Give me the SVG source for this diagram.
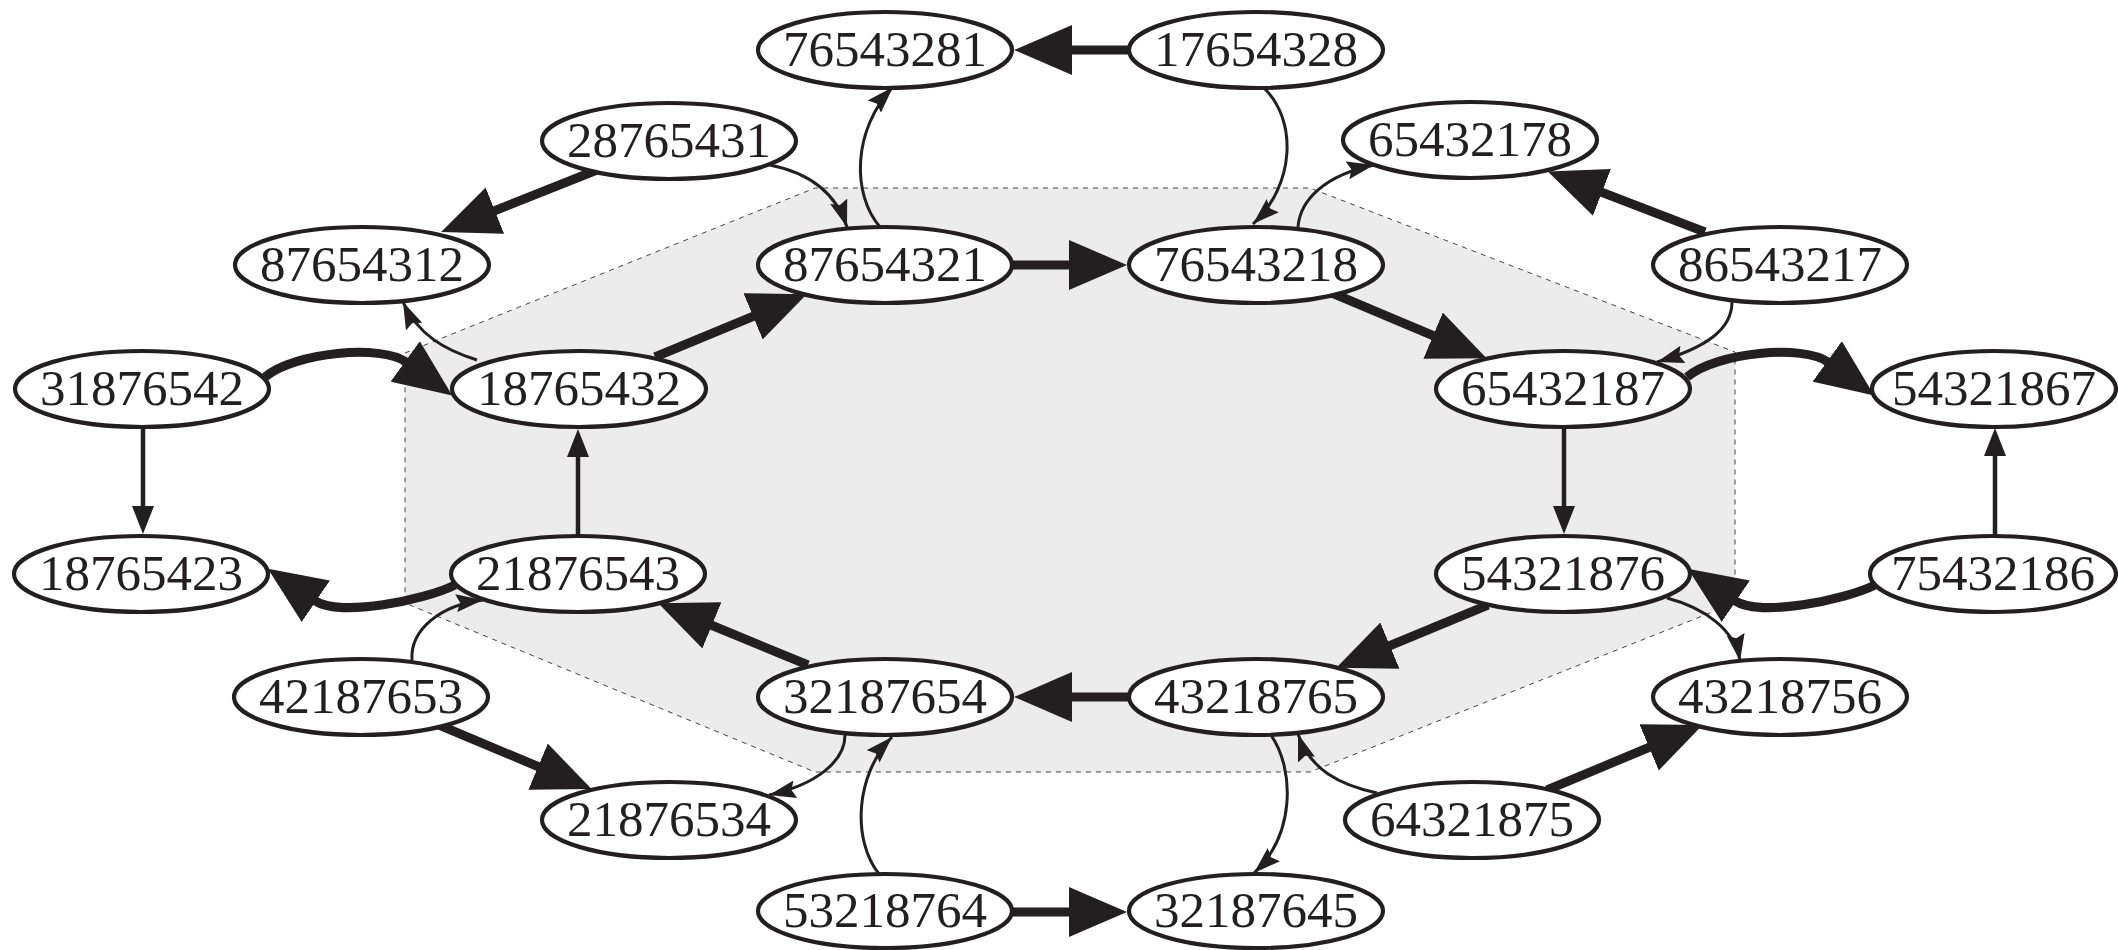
<svg xmlns="http://www.w3.org/2000/svg" width="2118" height="950" viewBox="0 0 2118 950">
<style>
.node ellipse{fill:#fff;stroke:#231f20;stroke-width:4.2}
.node text{font-family:"Liberation Serif","Times New Roman",serif;font-size:51px;fill:#231f20;text-anchor:middle}
#edges path{fill:none;stroke:#231f20}
#edges .thick{stroke-width:9;marker-end:url(#big)}
#edges .mid{stroke-width:4.5;marker-end:url(#med)}
#edges .thin{stroke-width:3;marker-end:url(#sm)}
</style>
<defs>
<marker id="big" markerUnits="userSpaceOnUse" viewBox="0 0 58 50" markerWidth="58" markerHeight="50" refX="1" refY="25" orient="auto"><path d="M0,0 L58,25 L0,50 Z" fill="#231f20"/></marker>
<marker id="med" markerUnits="userSpaceOnUse" viewBox="0 0 28 22" markerWidth="28" markerHeight="22" refX="1" refY="11" orient="auto"><path d="M0,0 L28,11 L0,22 Z" fill="#231f20"/></marker>
<marker id="sm" markerUnits="userSpaceOnUse" viewBox="0 0 27 18" markerWidth="27" markerHeight="18" refX="27" refY="9" orient="auto"><path d="M0,0 L27,9 L0,18 L4,9 Z" fill="#231f20"/></marker>
</defs>
<rect width="2118" height="950" fill="#fff"/>
<polygon id="region" points="405,353 815,188 1310,188 1735,352 1735,603 1310,772 815,772 405,603" fill="#ececec" stroke="#444" stroke-width="1" stroke-dasharray="5 5"/>
<g id="edges">
<path class="thick" d="M1129 50 L1071 50"/>
<path class="thick" d="M1129 697 L1071 697"/>
<path class="thick" d="M1012 265 L1070 265"/>
<path class="thick" d="M1012 912 L1070 912"/>
<path class="thick" d="M597 170 L494 211"/>
<path class="thick" d="M655 357 L754 316"/>
<path class="thick" d="M1332 293 L1434 336"/>
<path class="thick" d="M1705 232 L1601 192"/>
<path class="thick" d="M808 665 L711 625"/>
<path class="thick" d="M1488 605 L1389 646"/>
<path class="thick" d="M439 725 L539 767"/>
<path class="thick" d="M1547 790 L1650 747"/>
<path class="thick" d="M265 377 C295 352 381.5 344.3 406 362"/>
<path class="thick" d="M1687 377 C1717 352 1803.5 344.3 1828 362"/>
<path class="thick" d="M455 585 C425 600 339.7 617.5 315 600.7"/>
<path class="thick" d="M1875 585 C1845 600 1759.7 617.5 1735 600.7"/>
<path class="mid" d="M143 427 L143 507"/>
<path class="mid" d="M578 536 L578 456"/>
<path class="mid" d="M1564 427 L1564 507"/>
<path class="mid" d="M1995 536 L1995 455"/>
<path class="thin" d="M880 227 C852 195 852 130 893 87"/>
<path class="thin" d="M770 165 C805 172 835 190 847 227"/>
<path class="thin" d="M1263 87 C1298 120 1295 185 1253 224"/>
<path class="thin" d="M1298 227 C1300 200 1325 175 1374 165"/>
<path class="thin" d="M1732 302 C1732 330 1705 348 1657 362"/>
<path class="thin" d="M477 360 C445 350 418 335 403 302"/>
<path class="thin" d="M412 660 C410 630 440 605 483 600"/>
<path class="thin" d="M845 735 C845 762 815 785 769 795"/>
<path class="thin" d="M879 874 C852 840 855 775 892 737"/>
<path class="thin" d="M1271 735 C1295 770 1295 835 1254 873"/>
<path class="thin" d="M1377 793 C1340 785 1310 770 1298 734"/>
<path class="thin" d="M1667 598 C1705 608 1735 630 1740 661"/>
</g>
<g id="n76543281" class="node"><ellipse cx="885" cy="50" rx="127" ry="38"/><text x="885" y="66">76543281</text></g>
<g id="n17654328" class="node"><ellipse cx="1256" cy="50" rx="127" ry="38"/><text x="1256" y="66">17654328</text></g>
<g id="n28765431" class="node"><ellipse cx="669" cy="141" rx="127" ry="38"/><text x="669" y="157">28765431</text></g>
<g id="n65432178" class="node"><ellipse cx="1470" cy="140" rx="127" ry="38"/><text x="1470" y="156">65432178</text></g>
<g id="n87654312" class="node"><ellipse cx="362" cy="265" rx="127" ry="38"/><text x="362" y="281">87654312</text></g>
<g id="n87654321" class="node"><ellipse cx="885" cy="265" rx="127" ry="38"/><text x="885" y="281">87654321</text></g>
<g id="n76543218" class="node"><ellipse cx="1256" cy="265" rx="127" ry="38"/><text x="1256" y="281">76543218</text></g>
<g id="n86543217" class="node"><ellipse cx="1780" cy="265" rx="127" ry="38"/><text x="1780" y="281">86543217</text></g>
<g id="n31876542" class="node"><ellipse cx="142" cy="389" rx="127" ry="38"/><text x="142" y="405">31876542</text></g>
<g id="n18765432" class="node"><ellipse cx="579" cy="389" rx="127" ry="38"/><text x="579" y="405">18765432</text></g>
<g id="n65432187" class="node"><ellipse cx="1563" cy="389" rx="127" ry="38"/><text x="1563" y="405">65432187</text></g>
<g id="n54321867" class="node"><ellipse cx="1994" cy="389" rx="122" ry="38"/><text x="1994" y="405">54321867</text></g>
<g id="n18765423" class="node"><ellipse cx="141" cy="574" rx="127" ry="38"/><text x="141" y="590">18765423</text></g>
<g id="n21876543" class="node"><ellipse cx="578" cy="574" rx="127" ry="38"/><text x="578" y="590">21876543</text></g>
<g id="n54321876" class="node"><ellipse cx="1563" cy="574" rx="127" ry="38"/><text x="1563" y="590">54321876</text></g>
<g id="n75432186" class="node"><ellipse cx="1993" cy="574" rx="123" ry="38"/><text x="1993" y="590">75432186</text></g>
<g id="n42187653" class="node"><ellipse cx="361" cy="697" rx="127" ry="38"/><text x="361" y="713">42187653</text></g>
<g id="n32187654" class="node"><ellipse cx="885" cy="697" rx="127" ry="38"/><text x="885" y="713">32187654</text></g>
<g id="n43218765" class="node"><ellipse cx="1256" cy="697" rx="127" ry="38"/><text x="1256" y="713">43218765</text></g>
<g id="n43218756" class="node"><ellipse cx="1780" cy="697" rx="127" ry="38"/><text x="1780" y="713">43218756</text></g>
<g id="n21876534" class="node"><ellipse cx="669" cy="820" rx="127" ry="38"/><text x="669" y="836">21876534</text></g>
<g id="n64321875" class="node"><ellipse cx="1472" cy="820" rx="127" ry="38"/><text x="1472" y="836">64321875</text></g>
<g id="n53218764" class="node"><ellipse cx="885" cy="911" rx="127" ry="37"/><text x="885" y="927">53218764</text></g>
<g id="n32187645" class="node"><ellipse cx="1256" cy="911" rx="127" ry="37"/><text x="1256" y="927">32187645</text></g>
</svg>
